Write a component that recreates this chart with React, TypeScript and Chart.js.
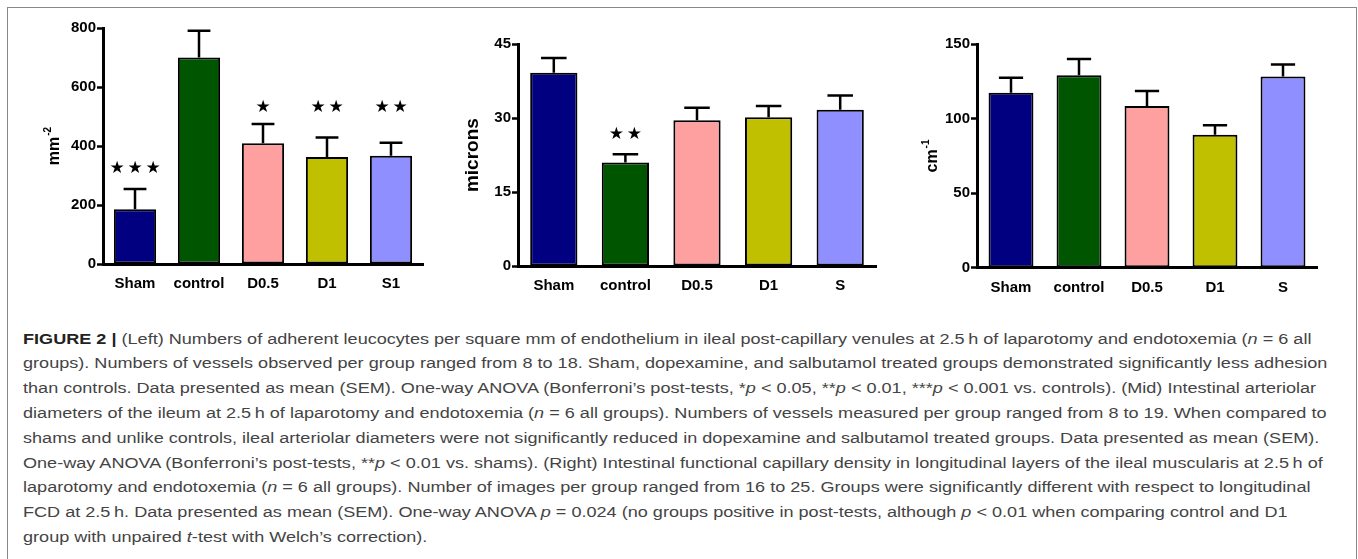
import React, { useEffect, useLayoutEffect, useRef, useState } from "react";
import { Chart, registerables } from "chart.js";

Chart.register(...registerables);

// ---------- data ----------
const colors = ["#000080", "#005500", "#FFA0A0", "#C0C000", "#8F8FFF"];

const groups1 = ["Sham", "control", "D0.5", "D1", "S1"];
const mean1 = [186, 700, 409, 363, 367];
const sem1 = [68, 91, 66, 66, 44];
const stars1 = [3, 0, 1, 2, 2];
const starAt1 = [325, null, 529, 529, 529];
const ticks1 = { max: 800, step: 200 };

const groups2 = ["Sham", "control", "D0.5", "D1", "S"];
const mean2 = [39.2, 21.0, 29.6, 30.2, 31.7];
const sem2 = [3.0, 1.7, 2.5, 2.3, 2.9];
const stars2 = [0, 2, 0, 0, 0];
const starAt2 = [null, 26.7, null, null, null];
const ticks2 = { max: 45, step: 15 };

const groups3 = ["Sham", "control", "D0.5", "D1", "S"];
const mean3 = [117.5, 129.2, 108.6, 89.3, 128.3];
const sem3 = [10.1, 11.0, 10.1, 6.3, 8.1];
const stars3 = [0, 0, 0, 0, 0];
const starAt3 = [null, null, null, null, null];
const ticks3 = { max: 150, step: 50 };

const captionLines = [
  "§FIGURE 2 |§ (Left) Numbers of adherent leucocytes per square mm of endothelium in ileal post-capillary venules at 2.5\u2009h of laparotomy and endotoxemia (_n_ = 6 all",
  "groups). Numbers of vessels observed per group ranged from 8 to 18. Sham, dopexamine, and salbutamol treated groups demonstrated significantly less adhesion",
  "than controls. Data presented as mean (SEM). One-way ANOVA (Bonferroni\u2019s post-tests, *_p_ < 0.05, **_p_ < 0.01, ***_p_ < 0.001 vs. controls). (Mid) Intestinal arteriolar",
  "diameters of the ileum at 2.5\u2009h of laparotomy and endotoxemia (_n_ = 6 all groups). Numbers of vessels measured per group ranged from 8 to 19. When compared to",
  "shams and unlike controls, ileal arteriolar diameters were not significantly reduced in dopexamine and salbutamol treated groups. Data presented as mean (SEM).",
  "One-way ANOVA (Bonferroni\u2019s post-tests, **_p_ < 0.01 vs. shams). (Right) Intestinal functional capillary density in longitudinal layers of the ileal muscularis at 2.5\u2009h of",
  "laparotomy and endotoxemia (_n_ = 6 all groups). Number of images per group ranged from 16 to 25. Groups were significantly different with respect to longitudinal",
  "FCD at 2.5\u2009h. Data presented as mean (SEM). One-way ANOVA _p_ = 0.024 (no groups positive in post-tests, although _p_ < 0.01 when comparing control and D1",
  "group with unpaired _t_-test with Welch\u2019s correction).",
];

// ---------- plugins ----------
const errStarsPlugin = {
  id: "errStars",
  afterDatasetsDraw(chart: any) {
    const { ctx } = chart;
    const y = chart.scales.y;
    const ds: any = chart.data.datasets[0];
    const meta = chart.getDatasetMeta(0);
    ctx.save();
    ctx.strokeStyle = "#000";
    ctx.lineWidth = 2.5;
    meta.data.forEach((bar: any, i: number) => {
      const top = y.getPixelForValue(ds.data[i]);
      const end = y.getPixelForValue(ds.data[i] + ds.sem[i]);
      const half = bar.width * 0.27;
      ctx.beginPath();
      ctx.moveTo(bar.x, top);
      ctx.lineTo(bar.x, end);
      ctx.moveTo(bar.x - half, end);
      ctx.lineTo(bar.x + half, end);
      ctx.stroke();
      const n = ds.stars[i];
      if (n && ds.starAt[i] != null) {
        const sy = y.getPixelForValue(ds.starAt[i]);
        const sp = 18;
        ctx.fillStyle = "#000";
        ctx.font = "17px 'DejaVu Sans'";
        ctx.textAlign = "center";
        ctx.textBaseline = "middle";
        for (let j = 0; j < n; j++) {
          ctx.fillText("\u2605", bar.x - ((n - 1) * sp) / 2 + j * sp, sy);
        }
      }
    });
    ctx.restore();
  },
  afterDraw(chart: any) {
    const { ctx, chartArea } = chart;
    const ds: any = chart.data.datasets[0];
    const ys = chart.scales.y;
    const x = ys.left + 10;
    const cy = (chartArea.top + chartArea.bottom) / 2;
    const size = ds.ysize || 16;
    ctx.save();
    ctx.translate(x, cy);
    ctx.rotate(-Math.PI / 2);
    ctx.fillStyle = "#000";
    ctx.textBaseline = "middle";
    ctx.textAlign = "left";
    const baseFont = `bold ${size}px 'Liberation Sans', Arial, sans-serif`;
    const supFont = "bold 10px 'Liberation Sans', Arial, sans-serif";
    ctx.font = baseFont;
    const wb = ctx.measureText(ds.ytitle).width;
    ctx.font = supFont;
    const ws = ds.ysup ? ctx.measureText(ds.ysup).width + 1 : 0;
    const start = -(wb + ws) / 2;
    ctx.font = baseFont;
    ctx.fillText(ds.ytitle, start, 0);
    if (ds.ysup) {
      ctx.font = supFont;
      ctx.fillText(ds.ysup, start + wb + 1, -7);
    }
    ctx.restore();
  },
};

type Pad = { left: number; top: number; right: number; bottom: number };
type Props = {
  labels: string[];
  mean: number[];
  sem: number[];
  stars: number[];
  starAt: (number | null)[];
  max: number;
  step: number;
  title: string;
  sup: string;
  titleSize: number;
  left: number;
  top: number;
  width: number;
  height: number;
  pad: Pad;
  yW: number;
};

const tickFont = { family: "'Liberation Sans', Arial, sans-serif", size: 15, weight: "bold" as const };

function BarChart(p: Props) {
  const ref = useRef<HTMLCanvasElement>(null);
  useEffect(() => {
    if (!ref.current) return;
    const chart = new Chart(ref.current, {
      type: "bar",
      data: {
        labels: p.labels,
        datasets: [
          {
            data: p.mean,
            backgroundColor: colors,
            borderColor: "#000",
            borderWidth: 2,
            borderSkipped: false,
            barPercentage: 0.66,
            categoryPercentage: 1,
            sem: p.sem,
            stars: p.stars,
            starAt: p.starAt,
            ytitle: p.title,
            ysup: p.sup,
            ysize: p.titleSize,
          } as any,
        ],
      },
      options: {
        animation: false,
        responsive: false,
        maintainAspectRatio: false,
        layout: { padding: p.pad },
        plugins: { legend: { display: false }, tooltip: { enabled: false }, title: { display: false } },
        scales: {
          x: {
            type: "category",
            offset: true,
            grid: { display: false, drawTicks: false },
            border: { display: true, color: "#000", width: 3 },
            ticks: { color: "#000", font: tickFont, padding: 11, maxRotation: 0, autoSkip: false },
            afterFit: (s: any) => {
              s.height = 32;
            },
          },
          y: {
            min: 0,
            max: p.max,
            grid: {
              display: true,
              drawOnChartArea: false,
              drawTicks: true,
              tickLength: 6,
              tickWidth: 2.5,
              tickColor: "#000",
            },
            border: { display: true, color: "#000", width: 3 },
            ticks: { stepSize: p.step, color: "#000", font: tickFont, padding: 1 },
            afterFit: (s: any) => {
              s.width = p.yW;
            },
          },
        },
      },
      plugins: [errStarsPlugin as any],
    });
    return () => chart.destroy();
  }, []);
  return (
    <canvas
      ref={ref}
      width={p.width}
      height={p.height}
      style={{ position: "absolute", left: p.left, top: p.top, width: p.width, height: p.height }}
    />
  );
}

function renderSegments(line: string) {
  const parts = line.split(/(§[^§]+§|_[^_]+_)/);
  return parts.map((s, i) => {
    if (s.startsWith("§")) {
      return (
        <b key={i} style={{ color: "#222", fontWeight: 700 }}>
          {s.slice(1, -1)}
        </b>
      );
    }
    if (s.startsWith("_") && s.endsWith("_") && s.length > 2) {
      return <i key={i}>{s.slice(1, -1)}</i>;
    }
    return <React.Fragment key={i}>{s}</React.Fragment>;
  });
}

function Caption() {
  const ref = useRef<HTMLSpanElement>(null);
  const [k, setK] = useState(1);
  useLayoutEffect(() => {
    if (ref.current) {
      const w = ref.current.offsetWidth;
      if (w > 0) setK(1304 / w);
    }
  }, []);
  return (
    <div
      style={{
        position: "absolute",
        left: 22.7,
        top: 326.6,
        fontFamily: "'Liberation Sans', Arial, sans-serif",
        fontSize: 15.5,
        lineHeight: "24.8px",
        color: "#444",
        whiteSpace: "nowrap",
        transform: `scaleX(${k})`,
        transformOrigin: "0 0",
      }}
    >
      {captionLines.map((l, i) => (
        <div key={i}>
          <span ref={i === 1 ? ref : undefined} style={{ display: "inline-block" }}>
            {renderSegments(l)}
          </span>
        </div>
      ))}
    </div>
  );
}

export default function App() {
  return (
    <div
      style={{
        position: "fixed",
        left: 0,
        top: 0,
        width: 1358,
        height: 559,
        background: "#fff",
        overflow: "hidden",
      }}
    >
      <div
        style={{
          position: "absolute",
          left: 6.5,
          top: 6.5,
          width: 1348,
          height: 600,
          borderTop: "1.5px solid #888",
          borderLeft: "1.5px solid #888",
          borderRight: "1.5px solid #888",
        }}
      />
      <BarChart
        labels={groups1}
        mean={mean1}
        sem={sem1}
        stars={stars1}
        starAt={starAt1}
        max={ticks1.max}
        step={ticks1.step}
        title="mm"
        sup="-2"
        titleSize={16}
        left={8}
        top={8}
        width={432}
        height={300}
        pad={{ left: 37, top: 20, right: 17, bottom: 12 }}
        yW={58}
      />
      <BarChart
        labels={groups2}
        mean={mean2}
        sem={sem2}
        stars={stars2}
        starAt={starAt2}
        max={ticks2.max}
        step={ticks2.step}
        title="microns"
        sup=""
        titleSize={19}
        left={440}
        top={8}
        width={450}
        height={300}
        pad={{ left: 23, top: 36.3, right: 14, bottom: 10 }}
        yW={55}
      />
      <BarChart
        labels={groups3}
        mean={mean3}
        sem={sem3}
        stars={stars3}
        starAt={starAt3}
        max={ticks3.max}
        step={ticks3.step}
        title="cm"
        sup="-1"
        titleSize={16}
        left={890}
        top={8}
        width={450}
        height={300}
        pad={{ left: 33, top: 36.3, right: 23, bottom: 8.3 }}
        yW={54}
      />
      <Caption />
    </div>
  );
}
